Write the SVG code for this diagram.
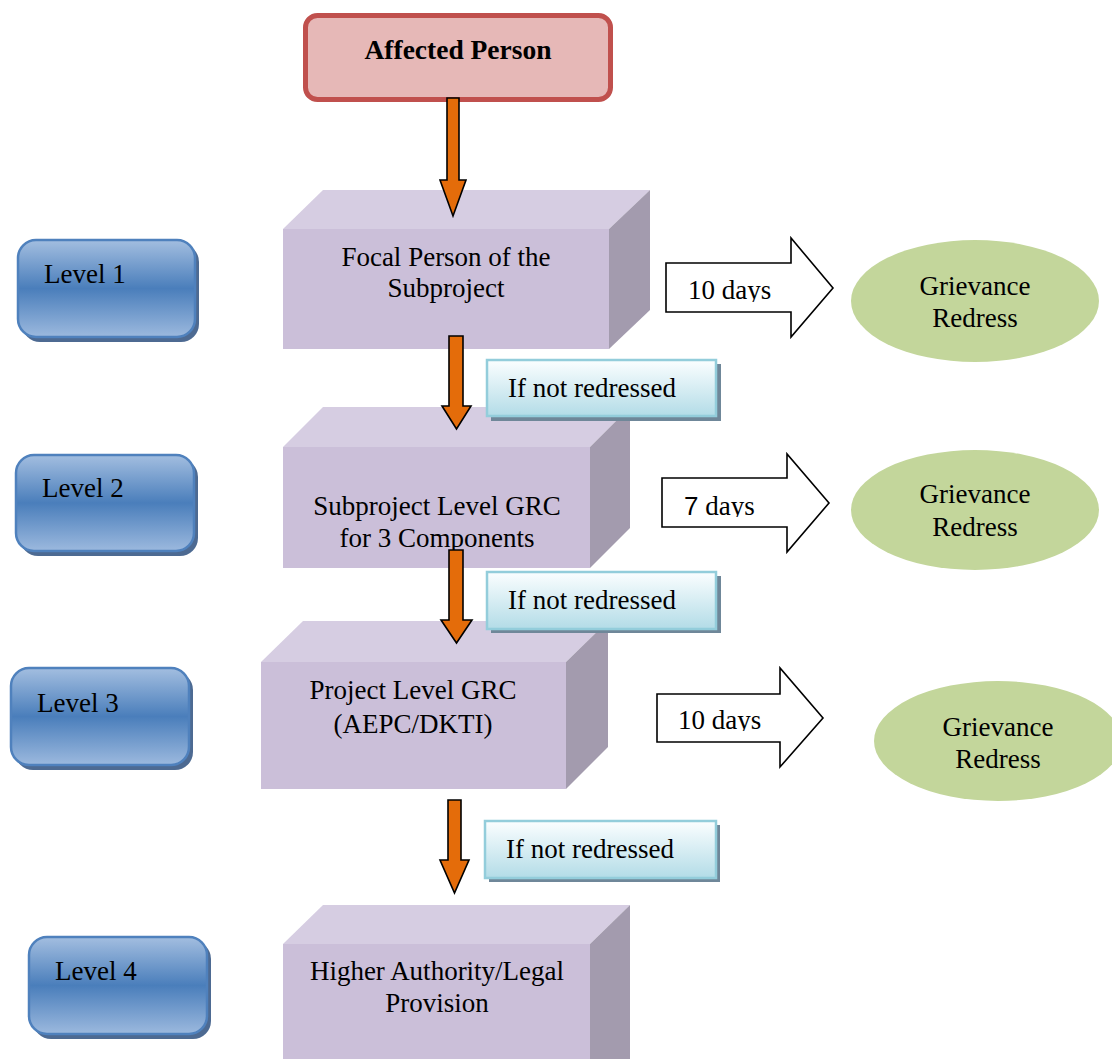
<svg xmlns="http://www.w3.org/2000/svg" width="1112" height="1059" viewBox="0 0 1112 1059">
<defs>
<linearGradient id="lvl" x1="0" y1="0" x2="0" y2="1">
<stop offset="0" stop-color="#a3bee0"/>
<stop offset="0.5" stop-color="#4a7ebb"/>
<stop offset="1" stop-color="#9cb9de"/>
</linearGradient>
<linearGradient id="ifn" x1="0" y1="0" x2="0" y2="1">
<stop offset="0" stop-color="#fbfeff"/>
<stop offset="1" stop-color="#b3dce7"/>
</linearGradient>
<clipPath id="c1"><rect x="666" y="250" width="130" height="52"/></clipPath>
<clipPath id="c2"><rect x="662" y="465" width="130" height="52"/></clipPath>
<clipPath id="c3"><rect x="657" y="680" width="130" height="51"/></clipPath>
</defs>
<style>
text{font-family:"Liberation Serif","Times New Roman",serif;font-size:27px;fill:#000}
.c{text-anchor:middle}
.front{fill:#cbbfd9}
.top{fill:#d6cde2}
.side{fill:#a39bae}
.lvl{fill:url(#lvl);stroke:#4f81bd;stroke-width:2.5}
.lsh{fill:#4d6a92}
.ifn{fill:url(#ifn);stroke:#93cddb;stroke-width:2.5}
.ish{fill:#6f8799}
.ell{fill:#c3d69b}
.oarr{fill:#e46c0a;stroke:#000;stroke-width:1.6}
.barr{fill:#fff;stroke:#000;stroke-width:1.6}
</style>
<rect width="1112" height="1059" fill="#fff"/>

<g id="box1">
<rect class="front" x="283" y="229" width="326" height="120"/>
<polygon class="top" points="283,229 323,190 650,190 609,229"/>
<polygon class="side" points="609,229 650,190 650,310 609,349"/>
<text class="c" x="446" y="266">Focal Person of the</text>
<text class="c" x="446" y="297">Subproject</text>
</g>
<g id="box2">
<rect class="front" x="283" y="447" width="307" height="121"/>
<polygon class="top" points="283,447 323,407 630,407 590,447"/>
<polygon class="side" points="590,447 630,407 630,528 590,568"/>
<text class="c" x="437" y="515">Subproject Level GRC</text>
<text class="c" x="437" y="547">for 3 Components</text>
</g>
<g id="box3">
<rect class="front" x="261" y="662" width="305" height="127"/>
<polygon class="top" points="261,662 303,621 608,621 566,662"/>
<polygon class="side" points="566,662 608,621 608,747 566,789"/>
<text class="c" x="413" y="699">Project Level GRC</text>
<text class="c" x="413" y="733">(AEPC/DKTI)</text>
</g>
<g id="box4">
<rect class="front" x="283" y="944" width="307" height="120"/>
<polygon class="top" points="283,944 323,905 630,905 590,944"/>
<polygon class="side" points="590,944 630,905 630,1064 590,1064"/>
<text class="c" x="437" y="980">Higher Authority/Legal</text>
<text class="c" x="437" y="1012">Provision</text>
</g>

<g id="affected">
<rect x="305.5" y="15.5" width="305" height="84" rx="12" fill="#e6b8b7" stroke="#c0504d" stroke-width="5"/>
<text class="c" x="458" y="59" style="font-weight:bold;font-size:27.5px">Affected Person</text>
</g>

<g id="level1">
<rect class="lsh" x="22" y="244" width="177" height="98" rx="18"/>
<rect class="lvl" x="18" y="240" width="177" height="97" rx="18"/>
<text x="44" y="283">Level 1</text>
</g>
<g id="level2">
<rect class="lsh" x="20" y="459" width="178" height="97" rx="18"/>
<rect class="lvl" x="16" y="455" width="178" height="96" rx="18"/>
<text x="42" y="497">Level 2</text>
</g>
<g id="level3">
<rect class="lsh" x="15" y="672" width="178" height="98" rx="18"/>
<rect class="lvl" x="11" y="668" width="178" height="97" rx="18"/>
<text x="37" y="712">Level 3</text>
</g>
<g id="level4">
<rect class="lsh" x="33" y="941" width="178" height="98" rx="18"/>
<rect class="lvl" x="29" y="937" width="178" height="97" rx="18"/>
<text x="55" y="980">Level 4</text>
</g>

<g id="redress1">
<ellipse class="ell" cx="975" cy="301" rx="124" ry="61"/>
<text class="c" x="975" y="295">Grievance</text>
<text class="c" x="975" y="327">Redress</text>
</g>
<g id="redress2">
<ellipse class="ell" cx="975" cy="510" rx="124" ry="60"/>
<text class="c" x="975" y="503">Grievance</text>
<text class="c" x="975" y="536">Redress</text>
</g>
<g id="redress3">
<ellipse class="ell" cx="998" cy="741" rx="124" ry="60"/>
<text class="c" x="998" y="736">Grievance</text>
<text class="c" x="998" y="768">Redress</text>
</g>

<g id="connectors">
<polygon class="oarr" points="447,98 459,98 459,180 466,180 453,216 440,180 447,180"/>
<polygon class="oarr" points="449,336 463,336 463,406 471,406 456.5,429 442,406 449,406"/>
<polygon class="oarr" points="449,550 463,550 463,620 472,620 456.5,643 441,620 449,620"/>
<polygon class="oarr" points="448,800 461,800 461,860 469,860 454.5,893 440,860 448,860"/>

<path class="barr" d="M666,263 H791 V238 L833,288 L791,337 V312 H666 Z"/>
<text x="688" y="299" clip-path="url(#c1)">10 days</text>
<path class="barr" d="M662,478 H787 V454 L829,503 L787,552 V527 H662 Z"/>
<text x="684" y="515" clip-path="url(#c2)"><tspan style="font-family:'Liberation Sans',Arial,sans-serif;font-size:26px">7</tspan> days</text>
<path class="barr" d="M657,694 H780 V668 L823,718 L780,767 V742 H657 Z"/>
<text x="678" y="729" clip-path="url(#c3)">10 days</text>
</g>

<g id="ifnot1">
<rect class="ish" x="491" y="364" width="230" height="57"/>
<rect class="ifn" x="487" y="360" width="229" height="56"/>
<text x="508" y="397">If not redressed</text>
</g>
<g id="ifnot2">
<rect class="ish" x="491" y="576" width="230" height="57"/>
<rect class="ifn" x="487" y="572" width="229" height="57"/>
<text x="508" y="609">If not redressed</text>
</g>
<g id="ifnot3">
<rect class="ish" x="489" y="825" width="231" height="57"/>
<rect class="ifn" x="485" y="821" width="231" height="57"/>
<text x="506" y="858">If not redressed</text>
</g>
</svg>
